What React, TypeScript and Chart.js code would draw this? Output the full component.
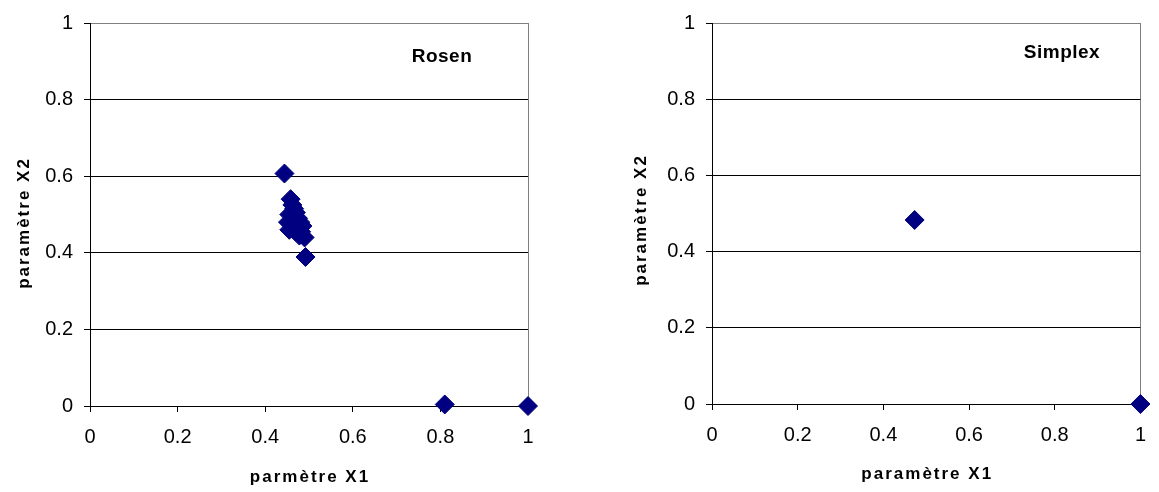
import React, { useEffect, useRef } from 'react';
import { Chart, registerables } from 'chart.js';

Chart.register(...registerables);

// ---- data ----
const rosenX1 = [0.444, 0.458, 0.462, 0.466, 0.455, 0.470, 0.475, 0.452, 0.480, 0.465, 0.485, 0.455, 0.470, 0.482, 0.490, 0.478, 0.492, 0.810, 1.000];
const rosenX2 = [0.607, 0.540, 0.525, 0.515, 0.500, 0.505, 0.490, 0.480, 0.480, 0.470, 0.470, 0.460, 0.455, 0.455, 0.440, 0.445, 0.389, 0.004, 0.000];
const simplexX1 = [0.473, 1.000];
const simplexX2 = [0.483, 0.000];
const tickLabels = ['0', '0.2', '0.4', '0.6', '0.8', '1'];
const chartNames = ['Rosen', 'Simplex'];
const xTitles = ['parmètre X1', 'paramètre X1'];
const yTitles = ['paramètre X2', 'paramètre X2'];

const FONT = '"Liberation Sans", Arial, sans-serif';
const NAVY = '#000080';

type PanelProps = {
  left: number;
  width: number;
  height: number;
  area: { left: number; right: number; top: number; bottom: number };
  xs: number[];
  ys: number[];
  name: string;
  nameX: number;
  nameY: number;
  xTitle: string;
  xTitleY: number;
  yTitle: string;
  yTitleX: number;
  yTitleY: number;
};

function Panel(p: PanelProps) {
  const ref = useRef<HTMLCanvasElement | null>(null);
  useEffect(() => {
    if (!ref.current) return;
    const points = p.xs.map((x, i) => ({ x, y: p.ys[i] }));
    const textPlugin = {
      id: 'texts',
      afterDraw(chart: any) {
        const ctx = chart.ctx as CanvasRenderingContext2D;
        const a = chart.chartArea;
        ctx.save();
        ctx.fillStyle = '#000';
        ctx.textAlign = 'center';
        ctx.textBaseline = 'middle';
        ctx.font = `bold 19px ${FONT}`;
        (ctx as any).letterSpacing = '0.5px';
        ctx.fillText(p.name, p.nameX, p.nameY);
        ctx.font = `bold 17px ${FONT}`;
        (ctx as any).letterSpacing = '2px';
        ctx.fillText(p.xTitle, (a.left + a.right) / 2 + 1, p.xTitleY);
        ctx.translate(p.yTitleX, p.yTitleY);
        ctx.rotate(-Math.PI / 2);
        ctx.fillText(p.yTitle, 0, 0);
        ctx.restore();
      },
    };
    const chart = new Chart(ref.current, {
      type: 'scatter',
      data: {
        datasets: [
          {
            data: points,
            pointStyle: 'rectRot',
            pointRadius: 9.5,
            pointHoverRadius: 9.5,
            backgroundColor: NAVY,
            borderColor: NAVY,
            borderWidth: 1,
            clip: false as any,
          },
        ],
      },
      options: {
        animation: false,
        responsive: false,
        devicePixelRatio: 1,
        events: [],
        layout: {
          padding: {
            left: 0,
            top: p.area.top,
            right: p.width - p.area.right,
            bottom: 0,
          },
        },
        plugins: {
          legend: { display: false },
          tooltip: { enabled: false },
          title: { display: false },
        },
        scales: {
          x: {
            type: 'linear',
            min: 0,
            max: 1,
            afterFit: (s: any) => {
              s.height = p.height - p.area.bottom;
            },
            ticks: {
              stepSize: 0.2,
              color: '#000',
              padding: 13,
              maxRotation: 0,
              font: { family: FONT, size: 20 },
              callback: (_v: any, i: number) => tickLabels[i],
            },
            grid: {
              color: (c: any) => (c.tick && c.tick.value === 1 ? '#808080' : 'rgba(0,0,0,0)'),
              tickColor: '#000',
              tickLength: 6,
              lineWidth: 1,
            },
            border: { display: true, color: '#000', width: 1 },
          },
          y: {
            type: 'linear',
            min: 0,
            max: 1,
            afterFit: (s: any) => {
              s.width = p.area.left;
            },
            ticks: {
              stepSize: 0.2,
              color: '#000',
              padding: 11,
              font: { family: FONT, size: 20 },
              callback: (_v: any, i: number) => tickLabels[i],
            },
            grid: {
              color: (c: any) => (c.tick && c.tick.value === 1 ? '#808080' : '#000'),
              tickColor: '#000',
              tickLength: 6,
              lineWidth: 1,
            },
            border: { display: true, color: '#000', width: 1 },
          },
        },
      },
      plugins: [textPlugin],
    });
    return () => chart.destroy();
  }, []);
  return (
    <div style={{ position: 'absolute', left: p.left, top: 0, width: p.width, height: p.height }}>
      <canvas ref={ref} width={p.width} height={p.height} style={{ display: 'block' }} />
    </div>
  );
}

export default function App() {
  return (
    <div style={{ position: 'absolute', left: 0, top: 0, width: 1159, height: 492, background: '#fff', overflow: 'hidden' }}>
      <Panel
        left={0}
        width={580}
        height={492}
        area={{ left: 90, right: 528, top: 21, bottom: 406 }}
        xs={rosenX1}
        ys={rosenX2}
        name={chartNames[0]}
        nameX={442}
        nameY={57}
        xTitle={xTitles[0]}
        xTitleY={477}
        yTitle={yTitles[0]}
        yTitleX={24}
        yTitleY={223}
      />
      <Panel
        left={580}
        width={579}
        height={492}
        area={{ left: 132, right: 570, top: 17, bottom: 404 }}
        xs={simplexX1}
        ys={simplexX2}
        name={chartNames[1]}
        nameX={482}
        nameY={53}
        xTitle={xTitles[1]}
        xTitleY={474}
        yTitle={yTitles[1]}
        yTitleX={61}
        yTitleY={220}
      />
    </div>
  );
}
